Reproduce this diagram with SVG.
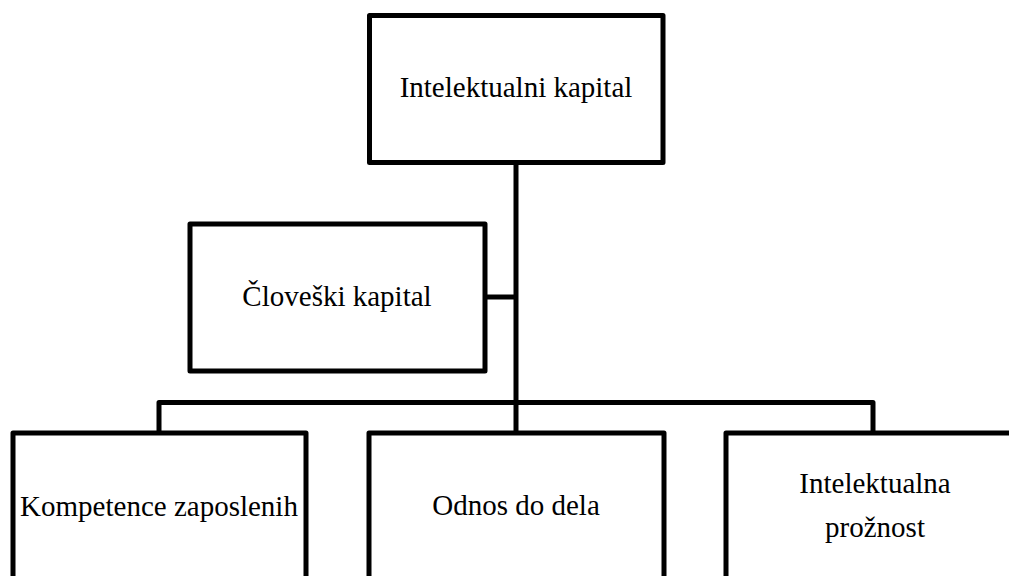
<svg xmlns="http://www.w3.org/2000/svg" width="1009" height="576" viewBox="0 0 1009 576">
<style>
.box{fill:#fff;stroke:#000;stroke-width:5;stroke-linejoin:round}
.con{fill:none;stroke:#000;stroke-width:5;stroke-linejoin:round}
.lbl{font-family:'Liberation Serif','Times New Roman',Times,serif;font-size:29px;fill:#000;text-anchor:middle}
</style>
<rect width="1009" height="576" fill="#fff"/>
<g id="connectors">
<path class="con" d="M516,162 V433"/>
<path class="con" d="M485,297 H516"/>
<path class="con" d="M159,433 V402.5 H873 V433"/>
</g>
<g id="n-intelektualni">
<rect class="box" x="369.5" y="15.5" width="293.5" height="147"/>
<text class="lbl" x="516" y="97">Intelektualni kapital</text>
</g>
<g id="n-cloveski">
<rect class="box" x="190" y="224" width="295" height="147"/>
<text class="lbl" x="337" y="306">Človeški kapital</text>
</g>
<g id="n-kompetence">
<rect class="box" x="13" y="433" width="293" height="160"/>
<text class="lbl" x="159" y="516">Kompetence zaposlenih</text>
</g>
<g id="n-odnos">
<rect class="box" x="369" y="433" width="295" height="160"/>
<text class="lbl" x="516" y="515">Odnos do dela</text>
</g>
<g id="n-proznost">
<rect class="box" x="726" y="433" width="300" height="160"/>
<text class="lbl" x="875" y="493">Intelektualna</text>
<text class="lbl" x="875" y="537">prožnost</text>
</g>
</svg>
